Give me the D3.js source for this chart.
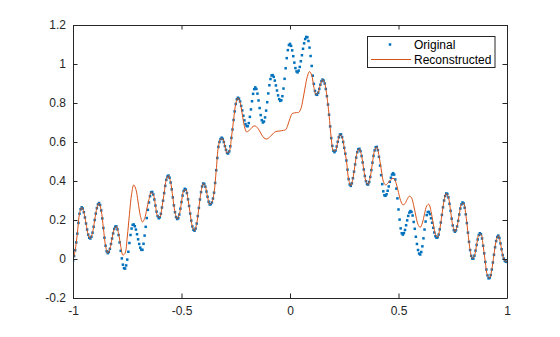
<!DOCTYPE html>
<html>
<head>
<meta charset="utf-8">
<script src="https://cdn.jsdelivr.net/npm/d3@7"></script>
<style>
  html, body { margin: 0; padding: 0; background: #fff; }
  svg { display: block; }
  text { font-family: "Liberation Sans", Arial, Helvetica, sans-serif; }
</style>
</head>
<body>
<svg id="chart" width="560" height="337"></svg>
<script>
// ---- data ----
// Original samples at x = -1, -0.995, ..., 1 (step 0.005)
const origStart = -1, origStep = 0.005;
const original = [
 -0.010, 0.015, 0.045, 0.085, 0.130, 0.185, 0.232, 0.255, 0.265, 0.259,
  0.240, 0.213, 0.182, 0.151, 0.125, 0.109, 0.105, 0.114, 0.135, 0.165,
  0.200, 0.233, 0.261, 0.280, 0.287, 0.277, 0.249, 0.208, 0.159, 0.109,
  0.068, 0.040, 0.030, 0.036, 0.052, 0.077, 0.105, 0.131, 0.154, 0.166,
  0.167, 0.152, 0.123, 0.085, 0.042, 0.003, -0.029, -0.047, -0.049, -0.033,
 -0.003, 0.037, 0.082, 0.123, 0.156, 0.175, 0.177, 0.168, 0.151, 0.127,
  0.101, 0.077, 0.058, 0.047, 0.047, 0.078, 0.120, 0.165, 0.210, 0.252,
  0.290, 0.322, 0.342, 0.344, 0.331, 0.305, 0.274, 0.243, 0.220, 0.209,
  0.214, 0.232, 0.264, 0.299, 0.338, 0.375, 0.406, 0.423, 0.428, 0.417,
  0.392, 0.357, 0.316, 0.275, 0.240, 0.215, 0.205, 0.209, 0.228, 0.258,
  0.292, 0.325, 0.349, 0.360, 0.356, 0.338, 0.306, 0.272, 0.233, 0.197,
  0.167, 0.150, 0.145, 0.156, 0.182, 0.220, 0.262, 0.305, 0.343, 0.372,
  0.387, 0.385, 0.371, 0.346, 0.319, 0.294, 0.280, 0.281, 0.290, 0.310,
  0.340, 0.390, 0.455, 0.518, 0.575, 0.600, 0.615, 0.622, 0.616, 0.600,
  0.579, 0.560, 0.544, 0.541, 0.552, 0.578, 0.621, 0.664, 0.713, 0.757,
  0.795, 0.819, 0.827, 0.822, 0.808, 0.785, 0.762, 0.735, 0.711, 0.692,
  0.682, 0.681, 0.697, 0.729, 0.767, 0.809, 0.847, 0.871, 0.880, 0.872,
  0.848, 0.813, 0.774, 0.738, 0.712, 0.700, 0.705, 0.726, 0.761, 0.804,
  0.849, 0.891, 0.923, 0.941, 0.943, 0.934, 0.915, 0.890, 0.864, 0.839,
  0.820, 0.811, 0.814, 0.835, 0.874, 0.924, 0.978, 1.030, 1.071, 1.097,
  1.103, 1.093, 1.070, 1.040, 1.007, 0.979, 0.962, 0.957, 0.966, 0.985,
  1.014, 1.045, 1.078, 1.106, 1.128, 1.139, 1.137, 1.118, 1.084, 1.041,
  0.990, 0.940, 0.898, 0.862, 0.844, 0.842, 0.853, 0.872, 0.894, 0.912,
  0.920, 0.915, 0.900, 0.872, 0.835, 0.792, 0.740, 0.680, 0.620, 0.580,
  0.555, 0.548, 0.556, 0.577, 0.601, 0.624, 0.638, 0.639, 0.625, 0.600,
  0.570, 0.540, 0.505, 0.458, 0.410, 0.382, 0.375, 0.388, 0.414, 0.448,
  0.485, 0.520, 0.548, 0.563, 0.565, 0.553, 0.528, 0.495, 0.459, 0.426,
  0.399, 0.384, 0.382, 0.395, 0.421, 0.456, 0.494, 0.529, 0.557, 0.573,
  0.575, 0.558, 0.524, 0.479, 0.430, 0.384, 0.347, 0.327, 0.324, 0.332,
  0.350, 0.372, 0.396, 0.417, 0.433, 0.440, 0.433, 0.408, 0.361, 0.311,
  0.254, 0.202, 0.157, 0.132, 0.125, 0.133, 0.149, 0.173, 0.198, 0.221,
  0.238, 0.246, 0.241, 0.223, 0.190, 0.155, 0.114, 0.077, 0.046, 0.028,
  0.023, 0.036, 0.065, 0.106, 0.151, 0.192, 0.225, 0.241, 0.241, 0.230,
  0.209, 0.186, 0.160, 0.136, 0.117, 0.109, 0.111, 0.125, 0.152, 0.187,
  0.226, 0.265, 0.300, 0.323, 0.336, 0.334, 0.316, 0.283, 0.247, 0.207,
  0.172, 0.148, 0.140, 0.147, 0.167, 0.196, 0.228, 0.259, 0.280, 0.290,
  0.285, 0.263, 0.229, 0.184, 0.135, 0.088, 0.046, 0.016, 0.002, 0.002,
  0.017, 0.043, 0.072, 0.100, 0.123, 0.132, 0.127, 0.105, 0.068, 0.029,
 -0.015, -0.054, -0.084, -0.099, -0.097, -0.082, -0.054, -0.018, 0.022, 0.060,
  0.092, 0.113, 0.120, 0.108, 0.080, 0.050, 0.020, 0.002, -0.010, -0.014,
 -0.015
];
// Reconstructed samples at x = -1, -0.99, ..., 1 (step 0.01)
const reconStart = -1, reconStep = 0.01;
const reconstructed = [
 -0.010, 0.045, 0.130, 0.232, 0.265, 0.240, 0.182, 0.125, 0.105, 0.135,
  0.200, 0.261, 0.287, 0.249, 0.159, 0.068, 0.030, 0.052, 0.105, 0.154,
  0.167, 0.130, 0.065, 0.020, 0.030, 0.113, 0.228, 0.332, 0.380, 0.357,
  0.292, 0.224, 0.190, 0.207, 0.256, 0.305, 0.342, 0.331, 0.274, 0.220,
  0.214, 0.264, 0.338, 0.406, 0.428, 0.392, 0.316, 0.240, 0.205, 0.228,
  0.292, 0.349, 0.356, 0.306, 0.233, 0.167, 0.145, 0.182, 0.262, 0.343,
  0.387, 0.371, 0.319, 0.280, 0.290, 0.340, 0.455, 0.575, 0.615, 0.616,
  0.579, 0.544, 0.552, 0.621, 0.713, 0.795, 0.827, 0.803, 0.743, 0.680,
  0.652, 0.657, 0.669, 0.680, 0.682, 0.673, 0.656, 0.636, 0.621, 0.615,
  0.619, 0.629, 0.641, 0.651, 0.655, 0.656, 0.658, 0.660, 0.663, 0.687,
  0.721, 0.745, 0.749, 0.751, 0.752, 0.770, 0.820, 0.882, 0.936, 0.961,
  0.943, 0.880, 0.844, 0.853, 0.894, 0.920, 0.900, 0.835, 0.740, 0.620,
  0.555, 0.556, 0.601, 0.638, 0.625, 0.570, 0.505, 0.410, 0.375, 0.414,
  0.485, 0.548, 0.565, 0.528, 0.459, 0.399, 0.382, 0.421, 0.494, 0.557,
  0.575, 0.530, 0.463, 0.399, 0.380, 0.388, 0.401, 0.412, 0.412, 0.385,
  0.341, 0.299, 0.278, 0.284, 0.306, 0.322, 0.314, 0.274, 0.221, 0.177,
  0.162, 0.185, 0.232, 0.272, 0.281, 0.243, 0.181, 0.127, 0.112, 0.152,
  0.226, 0.300, 0.336, 0.316, 0.247, 0.172, 0.140, 0.167, 0.228, 0.280,
  0.285, 0.229, 0.135, 0.046, 0.002, 0.017, 0.072, 0.123, 0.127, 0.068,
 -0.015, -0.084, -0.097, -0.054, 0.022, 0.092, 0.120, 0.080, 0.020, -0.010,
 -0.015
];
const xTicks = [-1, -0.5, 0, 0.5, 1];
const yTicks = [-0.2, 0, 0.2, 0.4, 0.6, 0.8, 1, 1.2];
const seriesNames = ["Original", "Reconstructed"];

// ---- chart ----
const W = 560, H = 337;
const m = { left: 73, right: 53, top: 25, bottom: 39 };
const svg = d3.select("#chart");
const axisColor = "#262626";
const blue = "#0072BD", orange = "#D95319";
const fontSize = "12px";

const x = d3.scaleLinear().domain([-1, 1]).range([m.left, W - m.right]);
const y = d3.scaleLinear().domain([-0.2, 1.2]).range([H - m.bottom, m.top]);

const origX = original.map((_, i) => origStart + i * origStep);
const reconX = reconstructed.map((_, i) => reconStart + i * reconStep);
const fmt = d => String(d);

const g = svg.append("g");

svg.append("defs").append("clipPath").attr("id", "clip")
  .append("rect").attr("x", m.left).attr("y", m.top)
  .attr("width", W - m.left - m.right).attr("height", H - m.top - m.bottom);

const plot = g.append("g").attr("clip-path", "url(#clip)");

// original markers
const ms = 2.5;
plot.append("g").selectAll("rect").data(original).join("rect")
  .attr("x", (d, i) => x(origX[i]) - ms / 2)
  .attr("y", d => y(d) - ms / 2)
  .attr("width", ms).attr("height", ms)
  .attr("fill", blue);

// reconstructed line
const line = d3.line()
  .x((d, i) => x(reconX[i]))
  .y(d => y(d))
  .curve(d3.curveCatmullRom.alpha(0.5));
plot.append("path").datum(reconstructed)
  .attr("d", line)
  .attr("fill", "none")
  .attr("stroke", orange)
  .attr("stroke-width", 1);

// axes (ticks inward)
const tl = 4.5;
const axB = g.append("g").attr("transform", `translate(0,${H - m.bottom})`)
  .call(d3.axisBottom(x).tickValues(xTicks).tickFormat(fmt).tickSizeInner(-tl).tickSizeOuter(0).tickPadding(8));
const axT = g.append("g").attr("transform", `translate(0,${m.top})`)
  .call(d3.axisTop(x).tickValues(xTicks).tickFormat("").tickSizeInner(-tl).tickSizeOuter(0));
const axL = g.append("g").attr("transform", `translate(${m.left},0)`)
  .call(d3.axisLeft(y).tickValues(yTicks).tickFormat(fmt).tickSizeInner(-tl).tickSizeOuter(0).tickPadding(7));
const axR = g.append("g").attr("transform", `translate(${W - m.right},0)`)
  .call(d3.axisRight(y).tickValues(yTicks).tickFormat("").tickSizeInner(-tl).tickSizeOuter(0));

[axB, axT, axL, axR].forEach(a => {
  a.select(".domain").attr("stroke", axisColor).attr("stroke-width", 1);
  a.selectAll(".tick line").attr("stroke", axisColor);
  a.selectAll(".tick text").attr("fill", axisColor)
    .style("font-size", fontSize)
    .style("font-family", "'Liberation Sans', Arial, sans-serif");
});

// legend
const lg = g.append("g");
const lx = 367.5, ly = 36.5, lw = 127.5, lh = 31;
lg.append("rect").attr("x", lx).attr("y", ly).attr("width", lw).attr("height", lh)
  .attr("fill", "#fff").attr("stroke", axisColor).attr("stroke-width", 1);
lg.append("rect").attr("x", 390 - ms / 2).attr("y", 44.5 - ms / 2)
  .attr("width", ms).attr("height", ms).attr("fill", blue);
lg.append("line").attr("x1", 371).attr("x2", 411).attr("y1", 59.5).attr("y2", 59.5)
  .attr("stroke", orange).attr("stroke-width", 1);
lg.selectAll("text.lab").data(seriesNames).join("text")
  .attr("class", "lab")
  .attr("x", 414).attr("y", (d, i) => 49 + i * 15)
  .attr("fill", "#000")
  .style("font-size", fontSize)
  .text(d => d);
</script>
</body>
</html>
